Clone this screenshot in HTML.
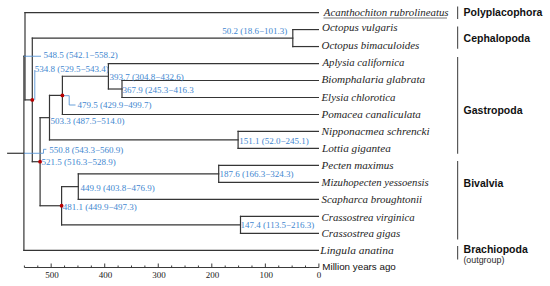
<!DOCTYPE html>
<html><head><meta charset="utf-8"><style>
html,body{margin:0;padding:0;background:#fff;}
body{width:550px;height:286px;overflow:hidden;}
svg{display:block;}
</style></head><body>
<svg width="550" height="286" viewBox="0 0 550 286">
<g stroke="#353535" stroke-width="1.2" fill="none" stroke-linecap="square">
<line x1="23.90" y1="56.24" x2="23.90" y2="250.32"/>
<line x1="23.90" y1="56.24" x2="25.00" y2="56.24"/>
<line x1="23.90" y1="250.32" x2="318.40" y2="250.32"/>
<line x1="25.00" y1="12.60" x2="25.00" y2="99.89"/>
<line x1="25.00" y1="12.60" x2="318.40" y2="12.60"/>
<line x1="25.00" y1="99.89" x2="32.30" y2="99.89"/>
<line x1="32.30" y1="38.07" x2="32.30" y2="161.71"/>
<line x1="32.30" y1="38.07" x2="292.80" y2="38.07"/>
<line x1="32.30" y1="161.71" x2="40.10" y2="161.71"/>
<line x1="292.80" y1="29.58" x2="292.80" y2="46.56"/>
<line x1="292.80" y1="29.58" x2="318.40" y2="29.58"/>
<line x1="292.80" y1="46.56" x2="318.40" y2="46.56"/>
<line x1="40.10" y1="117.66" x2="40.10" y2="205.75"/>
<line x1="40.10" y1="117.66" x2="49.50" y2="117.66"/>
<line x1="40.10" y1="205.75" x2="61.60" y2="205.75"/>
<line x1="49.50" y1="95.38" x2="49.50" y2="139.95"/>
<line x1="49.50" y1="95.38" x2="62.40" y2="95.38"/>
<line x1="49.50" y1="139.95" x2="238.10" y2="139.95"/>
<line x1="62.40" y1="76.27" x2="62.40" y2="114.48"/>
<line x1="62.40" y1="76.27" x2="108.40" y2="76.27"/>
<line x1="62.40" y1="114.48" x2="318.40" y2="114.48"/>
<line x1="108.40" y1="63.54" x2="108.40" y2="89.01"/>
<line x1="108.40" y1="63.54" x2="318.40" y2="63.54"/>
<line x1="108.40" y1="89.01" x2="122.00" y2="89.01"/>
<line x1="122.00" y1="80.52" x2="122.00" y2="97.50"/>
<line x1="122.00" y1="80.52" x2="318.40" y2="80.52"/>
<line x1="122.00" y1="97.50" x2="318.40" y2="97.50"/>
<line x1="238.10" y1="131.46" x2="238.10" y2="148.44"/>
<line x1="238.10" y1="131.46" x2="318.40" y2="131.46"/>
<line x1="238.10" y1="148.44" x2="318.40" y2="148.44"/>
<line x1="61.60" y1="186.64" x2="61.60" y2="224.85"/>
<line x1="61.60" y1="186.64" x2="78.30" y2="186.64"/>
<line x1="61.60" y1="224.85" x2="240.50" y2="224.85"/>
<line x1="78.30" y1="173.91" x2="78.30" y2="199.38"/>
<line x1="78.30" y1="173.91" x2="218.70" y2="173.91"/>
<line x1="78.30" y1="199.38" x2="318.40" y2="199.38"/>
<line x1="218.70" y1="165.42" x2="218.70" y2="182.40"/>
<line x1="218.70" y1="165.42" x2="318.40" y2="165.42"/>
<line x1="218.70" y1="182.40" x2="318.40" y2="182.40"/>
<line x1="240.50" y1="216.36" x2="240.50" y2="233.34"/>
<line x1="240.50" y1="216.36" x2="318.40" y2="216.36"/>
<line x1="240.50" y1="233.34" x2="318.40" y2="233.34"/>
<line x1="7.70" y1="153.28" x2="23.90" y2="153.28"/>
</g>
<g stroke="#5a96d6" stroke-width="0.9" fill="none">
<polyline points="23.90,56.24 41.00,56.24"/>
<polyline points="34.80,70.00 34.80,99.89"/>
<polyline points="62.40,95.68 69.20,95.68 69.20,105.00 75.50,105.00"/>
<polyline points="23.90,153.28 43.50,153.28 43.50,149.30 46.40,149.30"/>
</g>
<g fill="#b80000">
<circle cx="32.30" cy="99.89" r="1.9"/>
<circle cx="62.40" cy="95.38" r="1.9"/>
<circle cx="40.10" cy="161.71" r="1.9"/>
<circle cx="61.60" cy="205.75" r="1.9"/>
</g>
<g font-family="'Liberation Serif', serif" font-size="9.0" fill="#4287d0">
<text x="43.6" y="57.9">548.5 (542.1−558.2)</text>
<text x="34.8" y="71.7">534.8 (529.5−543.4)</text>
<text x="109.6" y="79.6">393.7 (304.8−432.6)</text>
<text x="122.6" y="93.0">367.9 (245.3−416.3</text>
<text x="77.5" y="107.9">479.5 (429.9−499.7)</text>
<text x="50.4" y="124.0">503.3 (487.5−514.0)</text>
<text x="239.3" y="143.8">151.1 (52.0−245.1)</text>
<text x="49.2" y="152.5">550.8 (543.3−560.9)</text>
<text x="41.6" y="164.8">521.5 (516.3−528.9)</text>
<text x="219.5" y="176.9">187.6 (166.3−324.3)</text>
<text x="80.6" y="191.0">449.9 (403.8−476.9)</text>
<text x="62.7" y="209.7">481.1 (449.9−497.3)</text>
<text x="240.6" y="227.5">147.4 (113.5−216.3)</text>
<text x="222.3" y="33.9">50.2 (18.6−101.3)</text>
</g>
<g font-family="'Liberation Serif', serif" font-style="italic" font-size="10.75" fill="#1e1e1e">
<text x="323.80" y="16.4" textLength="124.80" lengthAdjust="spacingAndGlyphs">Acanthochiton rubrolineatus</text>
<text x="322.00" y="31.2" textLength="75.60" lengthAdjust="spacingAndGlyphs">Octopus vulgaris</text>
<text x="321.50" y="48.7" textLength="97.80" lengthAdjust="spacingAndGlyphs">Octopus bimaculoides</text>
<text x="322.50" y="65.8" textLength="81.80" lengthAdjust="spacingAndGlyphs">Aplysia californica</text>
<text x="321.50" y="83.3" textLength="103.60" lengthAdjust="spacingAndGlyphs">Biomphalaria glabrata</text>
<text x="321.50" y="100.5" textLength="74.00" lengthAdjust="spacingAndGlyphs">Elysia chlorotica</text>
<text x="321.50" y="118.1" textLength="99.40" lengthAdjust="spacingAndGlyphs">Pomacea canaliculata</text>
<text x="321.50" y="134.7" textLength="108.20" lengthAdjust="spacingAndGlyphs">Nipponacmea schrencki</text>
<text x="322.00" y="151.9" textLength="68.80" lengthAdjust="spacingAndGlyphs">Lottia gigantea</text>
<text x="321.50" y="169.0" textLength="72.00" lengthAdjust="spacingAndGlyphs">Pecten maximus</text>
<text x="321.50" y="185.6" textLength="107.20" lengthAdjust="spacingAndGlyphs">Mizuhopecten yessoensis</text>
<text x="321.50" y="203.1" textLength="100.60" lengthAdjust="spacingAndGlyphs">Scapharca broughtonii</text>
<text x="321.50" y="220.7" textLength="93.20" lengthAdjust="spacingAndGlyphs">Crassostrea virginica</text>
<text x="321.50" y="237.4" textLength="78.80" lengthAdjust="spacingAndGlyphs">Crassostrea gigas</text>
<text x="320.30" y="254.0" textLength="73.40" lengthAdjust="spacingAndGlyphs">Lingula anatina</text>
</g>
<line x1="323.5" y1="18" x2="447" y2="18" stroke="#555" stroke-width="0.8"/>
<g stroke="#3a3a3a" stroke-width="1" fill="none">
<line x1="24.40" y1="267.5" x2="318.90" y2="267.5"/>
<line x1="318.90" y1="263.5" x2="318.90" y2="267.5"/>
<line x1="305.51" y1="265.5" x2="305.51" y2="267.5"/>
<line x1="292.13" y1="265.5" x2="292.13" y2="267.5"/>
<line x1="278.74" y1="265.5" x2="278.74" y2="267.5"/>
<line x1="265.35" y1="263.5" x2="265.35" y2="267.5"/>
<line x1="251.97" y1="265.5" x2="251.97" y2="267.5"/>
<line x1="238.58" y1="265.5" x2="238.58" y2="267.5"/>
<line x1="225.20" y1="265.5" x2="225.20" y2="267.5"/>
<line x1="211.81" y1="263.5" x2="211.81" y2="267.5"/>
<line x1="198.42" y1="265.5" x2="198.42" y2="267.5"/>
<line x1="185.04" y1="265.5" x2="185.04" y2="267.5"/>
<line x1="171.65" y1="265.5" x2="171.65" y2="267.5"/>
<line x1="158.26" y1="263.5" x2="158.26" y2="267.5"/>
<line x1="144.88" y1="265.5" x2="144.88" y2="267.5"/>
<line x1="131.49" y1="265.5" x2="131.49" y2="267.5"/>
<line x1="118.10" y1="265.5" x2="118.10" y2="267.5"/>
<line x1="104.72" y1="263.5" x2="104.72" y2="267.5"/>
<line x1="91.33" y1="265.5" x2="91.33" y2="267.5"/>
<line x1="77.95" y1="265.5" x2="77.95" y2="267.5"/>
<line x1="64.56" y1="265.5" x2="64.56" y2="267.5"/>
<line x1="51.17" y1="263.5" x2="51.17" y2="267.5"/>
<line x1="37.79" y1="265.5" x2="37.79" y2="267.5"/>
<line x1="24.40" y1="265.5" x2="24.40" y2="267.5"/>
</g>
<g font-family="'Liberation Serif', serif" font-size="9" fill="#222">
<text x="319.00" y="278.1" text-anchor="middle">0</text>
<text x="266.15" y="278.1" text-anchor="middle">100</text>
<text x="212.61" y="278.1" text-anchor="middle">200</text>
<text x="159.06" y="278.1" text-anchor="middle">300</text>
<text x="105.52" y="278.1" text-anchor="middle">400</text>
<text x="51.97" y="278.1" text-anchor="middle">500</text>
</g>
<text x="322.3" y="270.2" font-family="'Liberation Sans', sans-serif" font-size="9.8" fill="#111">Million years ago</text>
<g stroke="#5a5a5a" stroke-width="1.2">
<line x1="457.6" y1="6.4" x2="457.6" y2="19.1"/>
<line x1="457.6" y1="26.4" x2="457.6" y2="48.7"/>
<line x1="457.6" y1="57.0" x2="457.6" y2="153.8"/>
<line x1="457.6" y1="161.0" x2="457.6" y2="239.5"/>
<line x1="457.6" y1="246.0" x2="457.6" y2="259.4"/>
</g>
<g font-family="'Liberation Sans', sans-serif" font-weight="bold" font-size="10.5" fill="#111">
<text x="463.6" y="16.0">Polyplacophora</text>
<text x="463.6" y="41.5">Cephalopoda</text>
<text x="463.6" y="114.0">Gastropoda</text>
<text x="463.6" y="186.9">Bivalvia</text>
<text x="463.6" y="252.9">Brachiopoda</text>
</g>
<text x="463.4" y="262.6" font-family="'Liberation Sans', sans-serif" font-size="8.9" fill="#2a2a2a">(outgroup)</text>
</svg>
</body></html>
